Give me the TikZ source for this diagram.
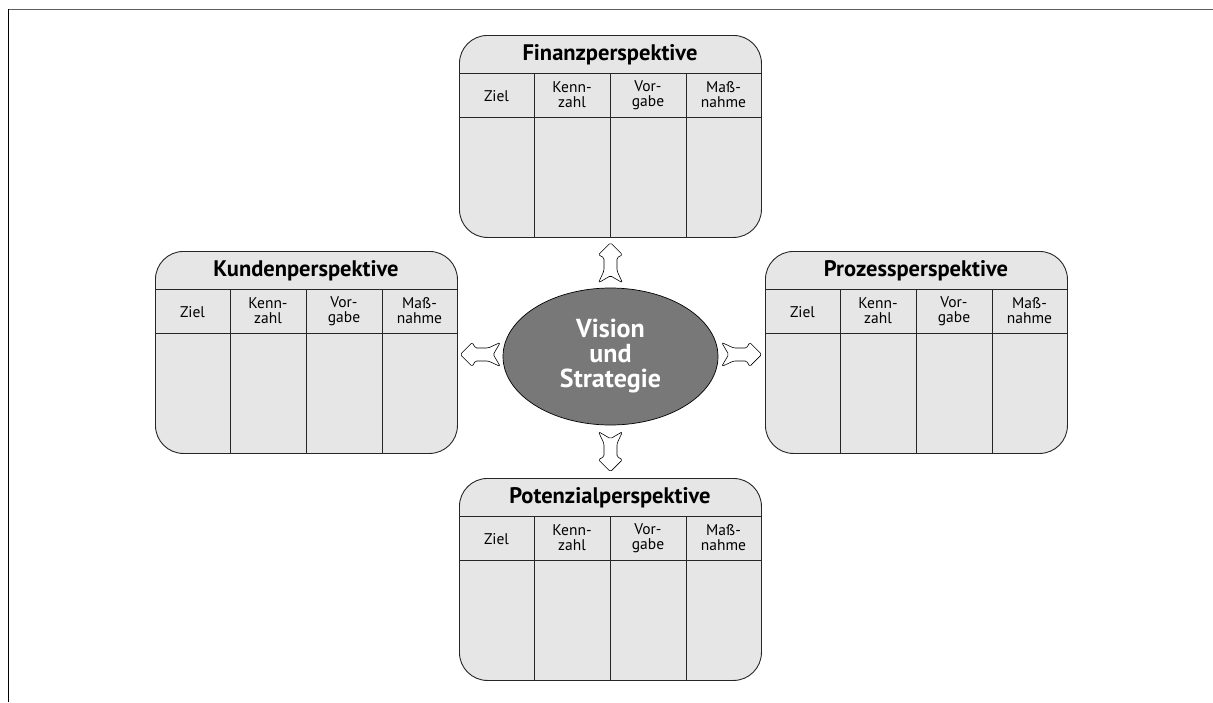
\documentclass[tikz,border=0pt]{standalone}
\usepackage{fontspec}
\setsansfont{PT Sans}
\usetikzlibrary{
  positioning,
  calc,
  shapes.geometric
}
\definecolor{feld}{HTML}{E6E6E6}
\definecolor{kern}{HTML}{787878}
\definecolor{rahmen}{HTML}{5F5F5F}

\tikzset{
  pfeil/.pic={
    \draw[pfeilform] (20,0) -- (8,12) -- (5,6.5) -- (-8,6.5) -- (-20,12)
      -- (-13,0) -- (-20,-12) -- (-8,-6.5) -- (5,-6.5) -- (8,-12) -- cycle;
  }
}

\begin{document}
\begin{tikzpicture}[
    x=1pt, y=-1pt, font=\sffamily,
    panel/.style={
      rectangle,
      draw=black!85,
      line width=0.9pt,
      fill=feld,
      rounded corners=28pt,
      inner sep=0pt,
      minimum width=302pt,
      minimum height=202pt
    },
    titel/.style={font=\sffamily\bfseries\fontsize{22.5}{24}\selectfont},
    spalte/.style={align=center, font=\sffamily\fontsize{15.5}{15}\selectfont},
    gitter/.style={draw=black!85, line width=0.8pt},
    vision/.style={
      ellipse,
      draw=black,
      line width=0.7pt,
      fill=kern,
      text=white,
      inner sep=0pt,
      minimum width=215pt,
      minimum height=137pt,
      align=center,
      font=\sffamily\bfseries\fontsize{26}{25}\selectfont
    },
    pfeilform/.style={
      draw=black,
      fill=white,
      line width=0.6pt,
      rounded corners=1.5pt
    }
  ]
  \useasboundingbox (0,0) rectangle (1213,702);

  % Rahmen
  \draw[rahmen, line width=1.6pt] (8.5,9.5) -- (1213,9.5);
  \draw[black, line width=1.4pt] (8.5,9) -- (8.5,702);

  % die vier Perspektiven
  \foreach \name/\x/\y/\text in {
      fin/459/35/Finanzperspektive,
      kun/155/251/Kundenperspektive,
      pro/765/251/Prozessperspektive,
      pot/459/478/Potenzialperspektive}{
    \node[panel, anchor=north west] (\name) at (\x,\y) {};
    \begin{scope}[shift={(\x,\y)}]
      \draw[gitter] (0,38) -- (302,38);
      \draw[gitter] (0,82) -- (302,82);
      \draw[gitter] (75,38) -- (75,202);
      \draw[gitter] (151,38) -- (151,202);
      \draw[gitter] (227,38) -- (227,202);
      \node[titel] (\name-titel) at (151,19.5) {\text};
      \node[spalte] (\name-ziel) at (37.5,61) {Ziel};
      \node[spalte] (\name-kenn) at (113,60) {Kenn-\\zahl};
      \node[spalte] (\name-vor) at (189,60) {Vor-\\gabe};
      \node[spalte] (\name-mass) at (264.5,60) {Maß-\\nahme};
    \end{scope}
  }

  \node[vision] (vision) at (610.5,356.5) {Vision\\und\\Strategie};

  % Pfeile
  \pic[rotate=90] at ($(vision.north)!0.5!(fin.south)$) {pfeil};
  \pic[rotate=-90] at ($(vision.south)!0.5!(pot.north)$) {pfeil};
  \pic[rotate=180] at ($(vision.west)!0.5!(kun.east)$) {pfeil};
  \pic at ($(vision.east)!0.5!(pro.west)$) {pfeil};
\end{tikzpicture}
\end{document}
